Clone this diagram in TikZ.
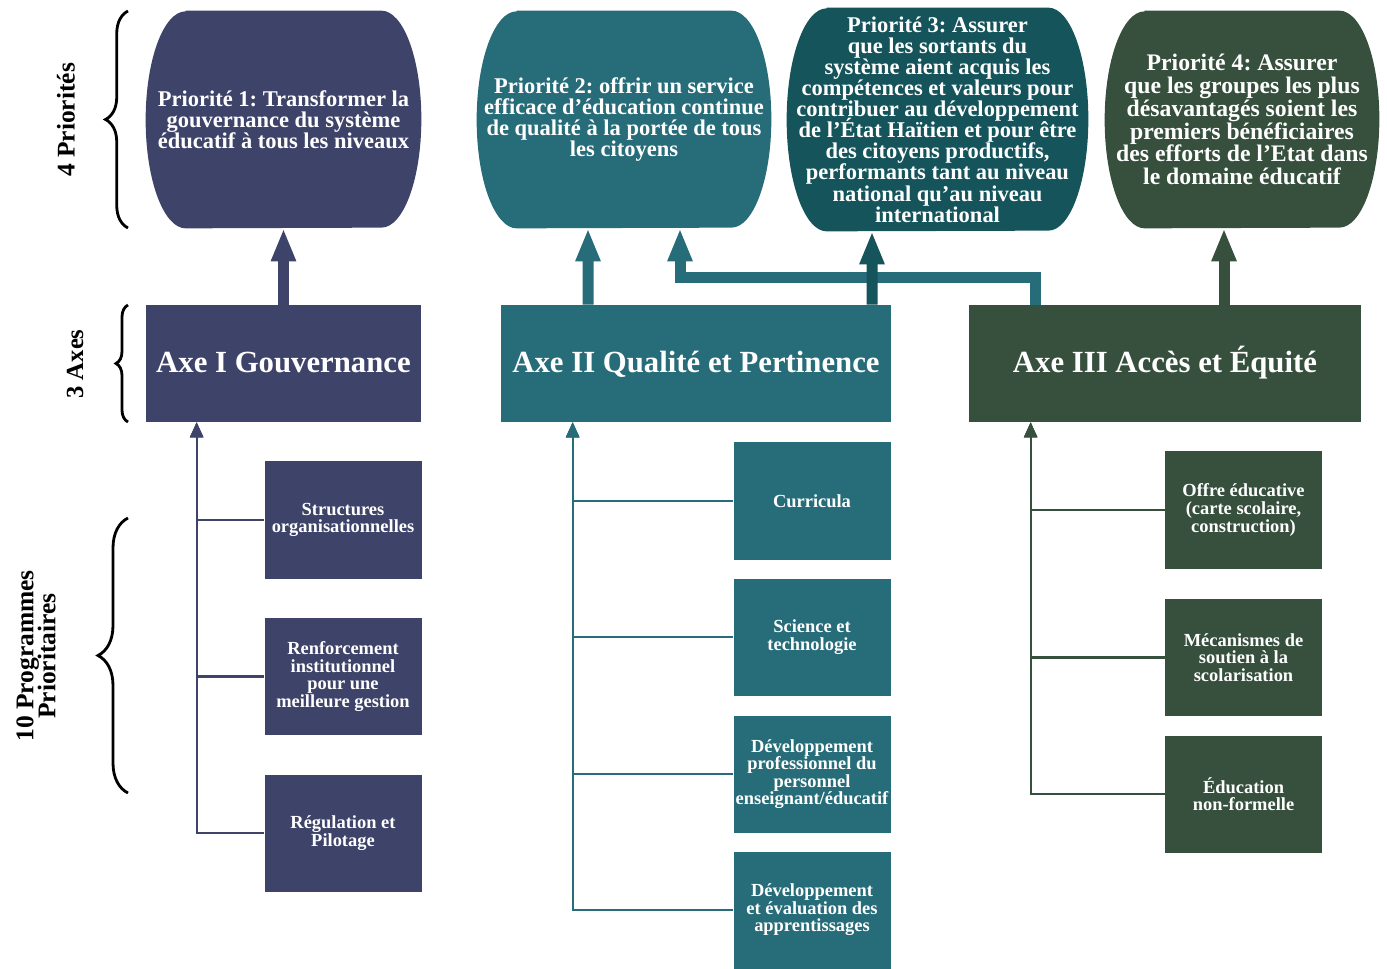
\documentclass[tikz,border=0pt]{standalone}
\usepackage{fontspec}
\setmainfont{Liberation Serif}
\usepackage{tikz}
\usetikzlibrary{arrows.meta,backgrounds,decorations.pathreplacing}
\frenchspacing
\lineskiplimit=-20pt

\definecolor{prioA}{HTML}{3E4369}
\definecolor{prioB}{HTML}{276C79}
\definecolor{prioC}{HTML}{15545B}
\definecolor{prioD}{HTML}{36503D}

\newcommand{\barrel}[3]{%
  \fill[#2] ([xshift=0.8cm]#1.north west) -- ([xshift=-0.8cm]#1.north east)
    arc[start angle=90, end angle=-90, x radius=0.8cm, y radius=#3]
    -- ([xshift=0.8cm]#1.south west)
    arc[start angle=270, end angle=90, x radius=0.8cm, y radius=#3] -- cycle;}

\begin{document}
\begin{tikzpicture}[
      priority/.style={minimum height=4.34cm, inner sep=0pt, align=center, text=white, font=\bfseries\fontsize{12.8}{12}\selectfont},
      axis/.style={minimum height=2.34cm, inner sep=0pt, text height=12pt, text depth=2pt, align=center, text=white, font=\bfseries\fontsize{17.5}{20}\selectfont},
      programme/.style={minimum width=3.14cm, minimum height=2.34cm, inner sep=0pt, align=center, text=white, font=\bfseries\fontsize{10.5}{10}\selectfont},
      bigarrow/.style={line width=0.22cm, -{Triangle[width=0.46cm,length=0.66cm]}},
      linkstyle/.style={line width=1.2pt, -{Triangle[width=0.26cm,length=0.3cm]}},
      curly/.style={decorate, decoration={brace, amplitude=#1}, line width=1.6pt},
      sidelabel/.style={rotate=90, align=center, font=\bfseries\fontsize{14.5}{12.5}\selectfont}
    ]
    \useasboundingbox (0,0) rectangle (27.74,-19.38);

    \node[priority, minimum width=5.5cm] (p1) at (5.67,-2.39) {Priorité 1: Transformer la\\gouvernance du système\\éducatif à tous les niveaux};
    \node[priority, minimum width=5.88cm] (p2) at (12.48,-2.39) {Priorité 2: offrir un service\\efficace d'éducation continue\\de qualité à la portée de tous\\les citoyens};
    \node[priority, minimum width=6.02cm, minimum height=4.46cm] (p3) at (18.75,-2.39) {Priorité 3: Assurer\\que les sortants du\\système aient acquis les\\compétences et valeurs pour\\contribuer au développement\\de l'État Haïtien et pour être\\des citoyens productifs,\\performants tant au niveau\\national qu'au niveau\\international};
    \node[priority, minimum width=5.48cm, font=\bfseries\fontsize{13.5}{13}\selectfont] (p4) at (24.84,-2.39) {Priorité 4: Assurer\\que les groupes les plus\\désavantagés soient les\\premiers bénéficiaires\\des efforts de l'Etat dans\\le domaine éducatif};

    \begin{scope}[on background layer]
      \barrel{p1}{prioA}{2.17cm}
      \barrel{p2}{prioB}{2.17cm}
      \barrel{p3}{prioC}{2.23cm}
      \barrel{p4}{prioD}{2.17cm}
    \end{scope}

    \node[axis, fill=prioA, minimum width=5.5cm] (a1) at (5.67,-7.27) {Axe I Gouvernance};
    \node[axis, fill=prioB, minimum width=7.8cm] (a2) at (13.92,-7.27) {Axe II Qualité et Pertinence};
    \node[axis, fill=prioD, minimum width=7.84cm] (a3) at (23.30,-7.27) {Axe III Accès et Équité};

    \node[programme, fill=prioA] (g1) at (6.86,-10.40) {Structures\\organisationnelles};
    \node[programme, fill=prioA] (g2) at (6.86,-13.53) {Renforcement\\institutionnel\\pour une\\meilleure gestion};
    \node[programme, fill=prioA] (g3) at (6.86,-16.66) {Régulation et\\Pilotage};

    \node[programme, fill=prioB] (q1) at (16.24,-10.02) {Curricula};
    \node[programme, fill=prioB] (q2) at (16.24,-12.74) {Science et\\technologie};
    \node[programme, fill=prioB] (q3) at (16.24,-15.48) {Développement\\professionnel du\\personnel\\enseignant/éducatif};
    \node[programme, fill=prioB] (q4) at (16.24,-18.20) {Développement\\et évaluation des\\apprentissages};

    \node[programme, fill=prioD] (e1) at (24.87,-10.20) {Offre éducative\\(carte scolaire,\\construction)};
    \node[programme, fill=prioD] (e2) at (24.87,-13.15) {Mécanismes de\\soutien à la\\scolarisation};
    \node[programme, fill=prioD] (e3) at (24.87,-15.88) {Éducation\\non-formelle};

    \draw[bigarrow, prioA] (a1.north) -- (p1.south);
    \draw[bigarrow, prioB] ([xshift=-2.16cm]a2.north) -- ([xshift=-0.72cm]p2.south);
    \draw[bigarrow, prioB] ([xshift=1.34cm]a3.north west) |- ([xshift=1.12cm,yshift=-0.98cm]p2.south) -- ([xshift=1.12cm]p2.south);
    \draw[bigarrow, prioC] ([xshift=3.52cm]a2.north) -- ([xshift=-1.31cm]p3.south);
    \draw[bigarrow, prioD] ([xshift=1.18cm]a3.north) -- ([xshift=-0.36cm]p4.south);

    \draw[linkstyle, prioA] (g1.west) -| ([xshift=1.02cm]a1.south west);
    \draw[linkstyle, prioA] (g2.west) -| ([xshift=1.02cm]a1.south west);
    \draw[linkstyle, prioA] (g3.west) -| ([xshift=1.02cm]a1.south west);
    \draw[linkstyle, prioB] (q1.west) -| ([xshift=1.44cm]a2.south west);
    \draw[linkstyle, prioB] (q2.west) -| ([xshift=1.44cm]a2.south west);
    \draw[linkstyle, prioB] (q3.west) -| ([xshift=1.44cm]a2.south west);
    \draw[linkstyle, prioB] (q4.west) -| ([xshift=1.44cm]a2.south west);
    \draw[linkstyle, prioD] (e1.west) -| ([xshift=1.24cm]a3.south west);
    \draw[linkstyle, prioD] (e2.west) -| ([xshift=1.24cm]a3.south west);
    \draw[linkstyle, prioD] (e3.west) -| ([xshift=1.24cm]a3.south west);

    \draw[curly=0.45cm] (2.56,-4.56) -- (2.56,-0.22);
    \draw[curly=0.24cm] (2.56,-8.44) -- (2.56,-6.10);
    \draw[curly=0.6cm] (2.56,-15.86) -- (2.56,-10.36);

    \node[sidelabel] (lprio) at (1.32,-2.40) {4 Priorités};
    \node[sidelabel, font=\bfseries\fontsize{14}{12.5}\selectfont] (laxes) at (1.50,-7.28) {3 Axes};
    \node[sidelabel] (lprog) at (0.72,-13.12) {10 Programmes\\Prioritaires};
  \end{tikzpicture}
\end{document}
